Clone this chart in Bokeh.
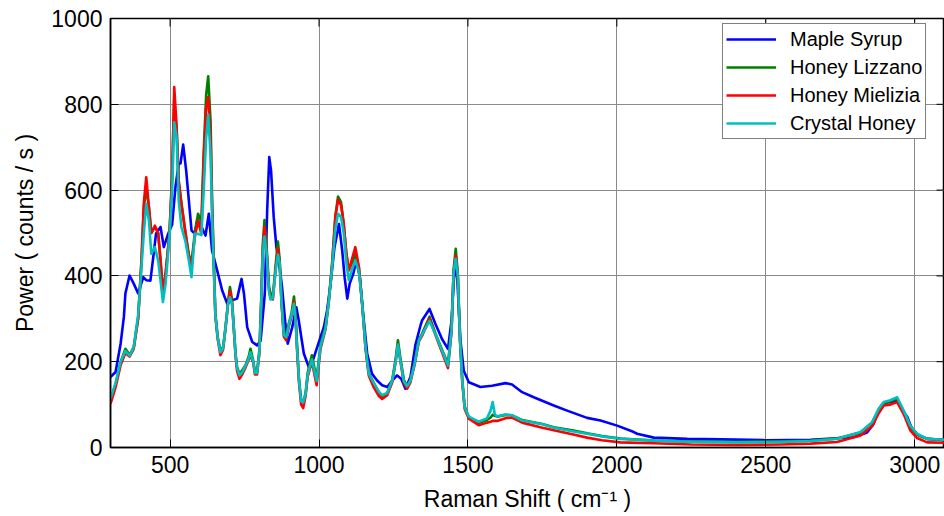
from bokeh.plotting import figure
from bokeh.models import Range1d, FixedTicker, Legend, LegendItem
from bokeh.embed import file_html
from bokeh.resources import INLINE

# ---------------- data ----------------
x_ticks = [500, 1000, 1500, 2000, 2500, 3000]
y_ticks = [0, 200, 400, 600, 800, 1000]
x_min, x_max = 300, 3100
y_min, y_max = 0, 1000

series_names = ["Maple Syrup", "Honey Lizzano", "Honey Mielizia", "Crystal Honey"]
series_colors = ["#0000FF", "#008000", "#FF0000", "#00BFBF"]

maple_x = [300, 317, 334, 345, 350, 364, 378, 393, 410, 420, 434, 445, 453, 468, 479, 494,
           507, 518, 529, 535, 544, 554, 563, 572, 583, 591, 602, 619, 630, 641, 658, 675,
           692, 708, 725, 740, 748, 759, 776, 792, 804, 818, 826, 833, 839, 848, 857, 865,
           876, 887, 895, 910, 924, 932, 949, 966, 977, 994, 1005, 1016, 1027, 1039, 1052,
           1067, 1078, 1086, 1095, 1103, 1115, 1126, 1137, 1148, 1162, 1178, 1195, 1212,
           1229, 1246, 1262, 1276, 1290, 1307, 1324, 1341, 1346, 1371, 1391, 1413, 1433,
           1445, 1456, 1464, 1475, 1486, 1503, 1542, 1581, 1626, 1648, 1682, 1721, 1788,
           1833, 1900, 1945, 2001, 2057, 2068, 2124, 2236, 2348, 2500, 2650, 2795, 2840,
           2862, 2880, 2896, 2920, 2941, 2963, 2975, 2990, 3008, 3042, 3100]
maple_y = [164, 176, 242, 305, 359, 401, 382, 359, 397, 390, 389, 452, 499, 514, 467, 499,
           520, 607, 662, 662, 706, 646, 576, 506, 499, 529, 520, 494, 545, 459, 413, 366,
           335, 343, 347, 393, 359, 280, 246, 238, 249, 358, 552, 677, 646, 537, 467, 436,
           374, 289, 242, 280, 327, 296, 219, 187, 198, 234, 257, 280, 319, 382, 467,
           521, 459, 397, 347, 382, 405, 436, 397, 312, 218, 172, 156, 145,
           141, 156, 168, 160, 137, 164, 240, 285, 296, 323, 288, 253, 230,
           296, 428, 395, 249, 179, 152, 141, 144, 150, 147, 129, 117, 98,
           86, 69, 63, 51, 36, 32, 23, 20, 19, 17, 18, 24, 35,
           55, 90, 104, 106, 110, 82, 71, 45, 30, 20, 17]

honey_x = [300, 317, 334, 350, 364, 378, 393, 404, 412, 420, 429, 437, 449, 460, 468, 476,
           485, 498, 507, 514, 522, 529, 538, 552, 563, 572, 583, 594, 605, 613, 621, 628,
           636, 641, 647, 652, 660, 669, 678, 686, 694, 701, 708, 714, 720, 725, 733, 742,
           753, 764, 770, 779, 785, 792, 800, 806, 811, 817, 824, 832, 837, 845, 854, 862,
           868, 874, 882, 890, 899, 908, 916, 921, 927, 933, 940, 947, 955, 962, 976, 992,
           1005, 1022, 1033, 1044, 1055, 1064, 1074, 1083, 1092, 1100, 1111, 1122, 1134,
           1145, 1156, 1167, 1184, 1201, 1212, 1229, 1246, 1257, 1265, 1274, 1285, 1296,
           1307, 1321, 1335, 1346, 1371, 1391, 1413, 1433, 1445, 1452, 1459, 1466, 1473,
           1481, 1489, 1503, 1536, 1564, 1576, 1583, 1590, 1598, 1626, 1648, 1682, 1750,
           1788, 1850, 1900, 1950, 2012, 2124, 2250, 2400, 2550, 2650, 2739, 2818, 2857,
           2879, 2896, 2918, 2941, 2963, 2985, 3008, 3042, 3100]
lizzano_y = [110, 148, 199, 230, 216, 234, 304, 436, 560, 605, 560, 500, 515, 500, 436, 365,
             405, 500, 640, 810, 740, 620, 570, 500, 450, 430, 500, 545, 525, 690, 820, 865,
             760, 580, 430, 312, 257, 226, 234, 280, 335, 374, 345, 280, 218, 187, 172, 180,
             191, 212, 230, 203, 177, 177, 228, 345, 470, 530, 470, 376, 360, 352, 422, 480,
             438, 345, 266, 262, 290, 314, 352, 314, 228, 158, 112, 105, 127, 174, 215, 160,
             240, 282, 345, 430, 540, 585, 572, 521, 451, 413, 430, 450, 420,
             337, 236, 174, 150, 128, 120, 127, 158, 205, 250, 205, 158, 142,
             158, 197, 251, 265, 305, 266, 228, 195, 275, 415, 463, 407, 259,
             158, 96, 70, 57, 64, 70, 76, 74, 72, 76, 75, 64, 55,
             47, 40, 33, 27, 21, 16, 14, 13, 14, 16, 21, 35, 58,
             88, 104, 108, 114, 84, 50, 30, 20, 18]
mielizia_y = [102, 140, 192, 220, 212, 230, 300, 436, 570, 630, 560, 500, 517, 500, 436, 358,
              405, 498, 630, 840, 747, 622, 568, 498, 444, 424, 490, 529, 498, 669, 790, 817,
              720, 560, 420, 308, 252, 215, 228, 276, 330, 365, 335, 275, 212, 178, 160, 170,
              186, 205, 215, 198, 170, 170, 220, 335, 455, 515, 458, 368, 350, 345, 412, 465,
              428, 338, 258, 250, 283, 306, 340, 305, 220, 150, 100, 92, 120, 165, 200, 145,
              230, 276, 340, 425, 537, 578, 565, 521, 451, 413, 440, 467, 420,
              333, 232, 168, 140, 120, 113, 122, 152, 198, 240, 198, 150, 137,
              152, 193, 247, 260, 300, 262, 222, 185, 270, 410, 448, 400, 253,
              152, 90, 67, 52, 58, 60, 62, 62, 62, 68, 70, 58, 46,
              40, 31, 23, 17, 12, 10, 7, 6, 7, 9, 13, 28, 50,
              80, 98, 100, 106, 78, 40, 22, 12, 11]
crystal_y = [114, 150, 200, 225, 214, 234, 310, 420, 500, 568, 529, 452, 467, 436, 389, 339,
             382, 490, 600, 758, 723, 576, 514, 479, 436, 397, 498, 498, 495, 600, 720, 776,
             680, 540, 410, 310, 255, 222, 232, 278, 332, 350, 335, 278, 216, 185, 168, 175,
             190, 208, 222, 201, 174, 174, 224, 338, 450, 492, 455, 365, 345, 348, 410, 450,
             430, 340, 262, 257, 287, 310, 335, 300, 224, 155, 108, 105, 125, 170, 205, 155,
             235, 278, 340, 420, 510, 545, 537, 500, 430, 390, 415, 436, 410,
             335, 234, 172, 150, 130, 122, 127, 156, 200, 240, 200, 154, 143,
             156, 195, 249, 263, 295, 264, 226, 191, 273, 410, 440, 402, 255,
             156, 94, 72, 60, 68, 86, 106, 78, 72, 77, 75, 63, 54,
             46, 38, 32, 26, 20, 16, 13, 12, 13, 15, 20, 36, 59,
             90, 106, 110, 117, 86, 51, 32, 20, 18]

# ---------------- figure ----------------
FONT = "Liberation Sans"
W, H = 944, 516
BORDER_L, BORDER_T, BORDER_B = 110, 18, 69
TICK_PX = 8

p = figure(width=W, height=H,
           x_range=Range1d(x_min, x_max), y_range=Range1d(y_min, y_max),
           output_backend="svg", toolbar_location=None,
           min_border_left=BORDER_L, min_border_right=0,
           min_border_top=BORDER_T, min_border_bottom=BORDER_B,
           background_fill_color="white", border_fill_color="white")

p.outline_line_color = "black"
p.outline_line_width = 1.5

# grid
p.xgrid.ticker = FixedTicker(ticks=x_ticks)
p.ygrid.ticker = FixedTicker(ticks=y_ticks)
for g in (p.xgrid, p.ygrid):
    g.grid_line_color = "#8a8a8a"
    g.grid_line_width = 1

def style_axis(ax, ticks):
    ax.ticker = FixedTicker(ticks=ticks)
    ax.axis_line_color = "black"
    ax.axis_line_width = 1.5
    ax.major_tick_line_color = "black"
    ax.major_tick_in = TICK_PX
    ax.major_tick_out = 0
    ax.minor_tick_in = 0
    ax.minor_tick_out = 0
    ax.major_label_text_font = FONT
    ax.major_label_text_font_size = "23px"
    ax.major_label_text_color = "black"
    ax.major_label_standoff = 8
    ax.axis_label_text_font = FONT
    ax.axis_label_text_font_size = "23px"
    ax.axis_label_text_font_style = "normal"
    ax.axis_label_text_color = "black"
    ax.axis_label_standoff = 10

style_axis(p.xaxis[0], x_ticks)
style_axis(p.yaxis[0], y_ticks)
p.xaxis[0].axis_label = "Raman Shift ( cm\u207b\u00b9 )"
p.yaxis[0].axis_label = "Power ( counts / s )"

# inward tick marks on the top and right edges of the box (MATLAB "box on")
frame_w = W - BORDER_L
frame_h = H - BORDER_T - BORDER_B
dy_tick = TICK_PX * (y_max - y_min) / frame_h
dx_tick = TICK_PX * (x_max - x_min) / frame_w
p.segment(x0=x_ticks, y0=[y_max] * len(x_ticks), x1=x_ticks, y1=[y_max - dy_tick] * len(x_ticks),
          line_color="black", line_width=1)
p.segment(x0=[x_max] * len(y_ticks), y0=y_ticks, x1=[x_max - dx_tick] * len(y_ticks), y1=y_ticks,
          line_color="black", line_width=1)

# lines
renderers = []
for xs, ys, col in [(maple_x, maple_y, series_colors[0]),
                    (honey_x, lizzano_y, series_colors[1]),
                    (honey_x, mielizia_y, series_colors[2]),
                    (honey_x, crystal_y, series_colors[3])]:
    r = p.line(xs, ys, line_color=col, line_width=2.6, line_join="round")
    renderers.append(r)

legend = Legend(items=[LegendItem(label=n, renderers=[r]) for n, r in zip(series_names, renderers)],
                location=(612, 308))
legend.border_line_color = "black"
legend.border_line_width = 1
legend.background_fill_color = "white"
legend.background_fill_alpha = 1
legend.label_text_font = FONT
legend.label_text_font_size = "20px"
legend.label_text_color = "black"
legend.glyph_width = 50
legend.glyph_height = 24
legend.label_height = 24
legend.label_standoff = 14
legend.spacing = 4
legend.padding = 3
legend.margin = 0
p.add_layout(legend)

open("out.html", "w").write(file_html(p, INLINE))
